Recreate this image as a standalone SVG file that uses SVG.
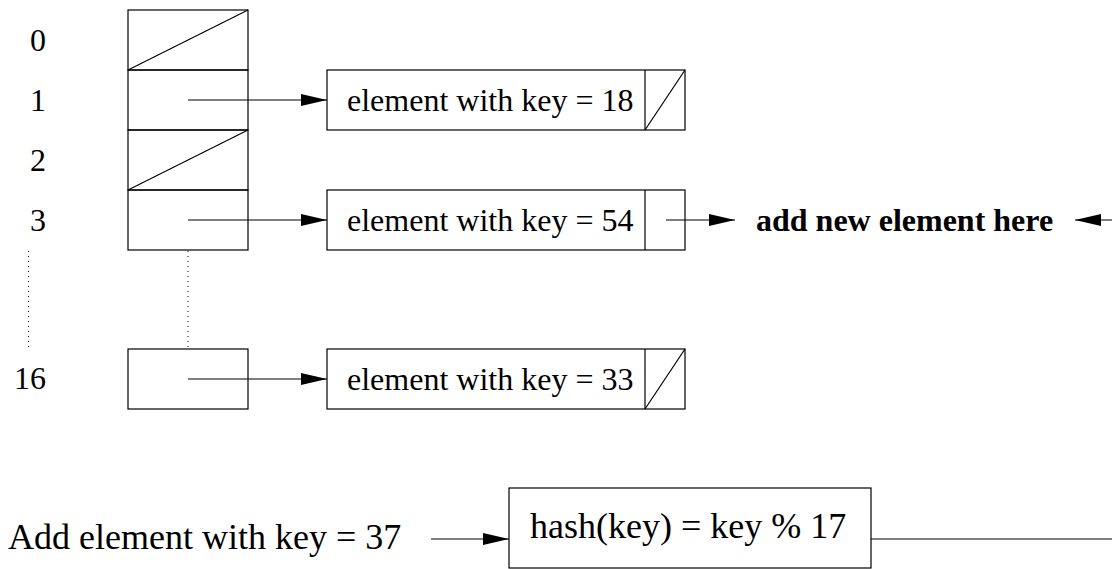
<svg xmlns="http://www.w3.org/2000/svg" width="1112" height="569" viewBox="0 0 1112 569">
<style>
.box{fill:none;stroke:#000;stroke-width:1.2}
.ln{fill:none;stroke:#000;stroke-width:1.2}
.dot{fill:none;stroke:#000;stroke-width:1;stroke-dasharray:1 4}
.t{font-family:"Liberation Serif","Times New Roman",serif;font-size:32px;fill:#000}
.tb{font-family:"Liberation Serif","Times New Roman",serif;font-size:32px;font-weight:bold;fill:#000}
.tl{font-family:"Liberation Serif","Times New Roman",serif;font-size:36px;fill:#000}
</style>
<defs>
<marker id="arr" markerUnits="userSpaceOnUse" markerWidth="27" markerHeight="13" refX="26" refY="6" orient="auto">
<path d="M0,0 L26,6 L0,12 z" fill="#000"/>
</marker>
</defs>
<g id="labels">
<text class="t" x="46" y="51" text-anchor="end">0</text>
<text class="t" x="46" y="111" text-anchor="end">1</text>
<text class="t" x="46" y="171" text-anchor="end">2</text>
<text class="t" x="46" y="231" text-anchor="end">3</text>
<text class="t" x="46" y="389" text-anchor="end">16</text>
<line class="dot" x1="28.5" y1="251" x2="28.5" y2="349"/>
</g>
<g id="bucket0"><rect class="box" x="128" y="10" width="120" height="60"/><line class="ln" x1="128" y1="70" x2="248" y2="10"/></g>
<g id="bucket1"><rect class="box" x="128" y="70" width="120" height="60"/></g>
<g id="bucket2"><rect class="box" x="128" y="130" width="120" height="60"/><line class="ln" x1="128" y1="190" x2="248" y2="130"/></g>
<g id="bucket3"><rect class="box" x="128" y="190" width="120" height="60"/></g>
<g id="bucket16"><rect class="box" x="128" y="349" width="120" height="60"/></g>
<g id="elem18">
<rect class="box" x="327" y="70" width="358" height="60"/>
<line class="ln" x1="645" y1="70" x2="645" y2="130"/>
<line class="ln" x1="645" y1="130" x2="685" y2="70"/>
<text class="t" x="347" y="111">element with key = 18</text>
</g>
<g id="elem54">
<rect class="box" x="327" y="190" width="358" height="60"/>
<line class="ln" x1="645" y1="190" x2="645" y2="250"/>
<text class="t" x="347" y="231">element with key = 54</text>
</g>
<g id="elem33">
<rect class="box" x="327" y="349" width="358" height="60"/>
<line class="ln" x1="645" y1="349" x2="645" y2="409"/>
<line class="ln" x1="645" y1="409" x2="685" y2="349"/>
<text class="t" x="347" y="390">element with key = 33</text>
</g>
<g id="newpos"><text class="tb" x="756" y="231">add new element here</text></g>
<g id="input"><text class="tl" x="8" y="549">Add element with key = 37</text></g>
<g id="hash">
<rect class="box" x="509" y="488" width="362" height="80"/>
<text class="tl" x="530" y="538">hash(key) = key % 17</text>
</g>
<g id="connectors">
<line class="ln" x1="188" y1="100" x2="327" y2="100" marker-end="url(#arr)"/>
<line class="ln" x1="188" y1="220" x2="327" y2="220" marker-end="url(#arr)"/>
<line class="ln" x1="188" y1="379" x2="327" y2="379" marker-end="url(#arr)"/>
<line class="dot" x1="188" y1="251" x2="188" y2="349"/>
<line class="ln" x1="666" y1="220" x2="735" y2="220" marker-end="url(#arr)"/>
<line class="ln" x1="1112" y1="220" x2="1075" y2="220" marker-end="url(#arr)"/>
<line class="ln" x1="431" y1="539" x2="509" y2="539" marker-end="url(#arr)"/>
<line class="ln" x1="871" y1="539" x2="1112" y2="539"/>
</g>
</svg>
